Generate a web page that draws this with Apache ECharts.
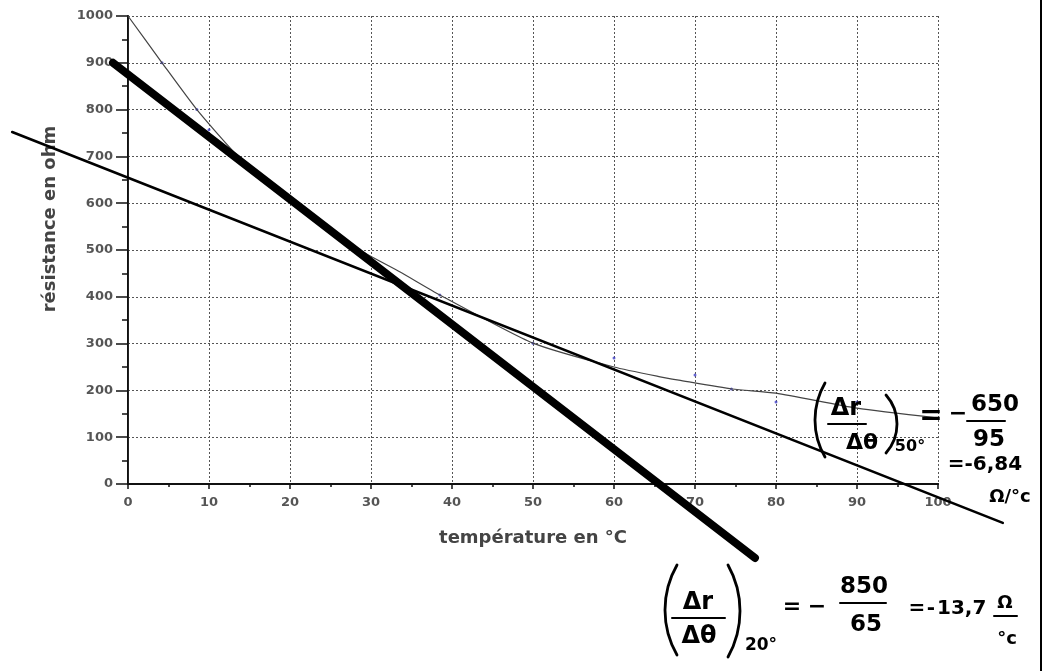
<!DOCTYPE html>
<html>
<head>
<meta charset="utf-8">
<script src="https://cdn.jsdelivr.net/npm/echarts@6/dist/echarts.min.js"></script>
<style>
html,body{margin:0;padding:0;background:#fff;}
#chart{width:1045px;height:671px;}
</style>
</head>
<body>
<div id="chart"></div>
<script>
// Fitted curve (thin line)
var curveTemp = [0, 4.2, 8.5, 13.6, 19.6, 28.6, 33.6, 38.5, 50, 60, 65.7, 68, 74.6, 80, 90, 100];
var curveRes  = [1000, 900, 800, 700, 607, 500, 453, 404, 301, 250, 229, 222, 203, 194, 162, 141];
// Measured points (small blue dots)
var measTemp = [4.2, 8.5, 10, 13.6, 28.6, 38.5, 50, 60, 70, 74.5, 80, 90];
var measRes  = [900, 800, 757, 700, 500, 404, 301, 269, 233, 203, 175, 175];
// Tangent at 20 °C (thick) and at 50 °C (thin)
var tangent20Temp = [-1.85, 77.4];
var tangent20Res  = [900, -158];
var tangent50Temp = [-14.3, 108];
var tangent50Res  = [752, -83];
// Axis ticks
var xTicks = [0, 10, 20, 30, 40, 50, 60, 70, 80, 90, 100];
var yTicks = [0, 100, 200, 300, 400, 500, 600, 700, 800, 900, 1000];
// Extended (hidden) range used so the tangents can run past the plot frame
var extX = [-15, 110];
var extY = [-200, 1000];

function pairs(xs, ys) { return xs.map(function (x, i) { return [x, ys[i]]; }); }

var W = 1045, H = 671;
var G = {left: 128, right: 107, top: 16, bottom: 187};
var pxX = (W - G.left - G.right) / (xTicks[xTicks.length - 1] - xTicks[0]);
var pxY = (H - G.top - G.bottom) / (yTicks[yTicks.length - 1] - yTicks[0]);
var G2 = {
  left: G.left + (extX[0] - xTicks[0]) * pxX,
  right: G.right - (extX[1] - xTicks[xTicks.length - 1]) * pxX,
  top: G.top - (extY[1] - yTicks[yTicks.length - 1]) * pxY,
  bottom: G.bottom + (extY[0] - yTicks[0]) * pxY
};

var labelFont = {color: '#555', fontFamily: 'DejaVu Sans', fontWeight: 'bold', fontSize: 13,
  formatter: function (v) { return String(v); }};

function T(x, y, text, size, extra, weight) {
  var o = {type: 'text', x: x, y: y, z: 100,
    style: {text: text, fill: '#000', font: (weight || 'bold') + ' ' + size + 'px DejaVu Sans', align: 'center', verticalAlign: 'middle'}};
  if (extra) { for (var k in extra) o[k] = extra[k]; }
  return o;
}
// hand-drawn style parenthesis as an arc; side -1 = "(", +1 = ")"
function P(edgeX, cy, halfH, sag, side) {
  var r = (halfH * halfH + sag * sag) / (2 * sag);
  var a = Math.asin(halfH / r);
  var cx = side < 0 ? edgeX + r : edgeX - r;
  var mid = side < 0 ? Math.PI : 0;
  return {type: 'arc', z: 100, shape: {cx: cx, cy: cy, r: r, startAngle: mid - a, endAngle: mid + a},
    style: {stroke: '#000', lineWidth: 2.8, fill: null, lineCap: 'round'}};
}
function L(x1, y1, x2, y2) {
  return {type: 'line', z: 100, shape: {x1: x1, y1: y1, x2: x2, y2: y2}, style: {stroke: '#000', lineWidth: 2, lineCap: 'round'}};
}

var chart = echarts.init(document.getElementById('chart'));
chart.setOption({
  animation: false,
  backgroundColor: '#fff',
  grid: [
    {left: G.left, right: G.right, top: G.top, bottom: G.bottom, containLabel: false},
    {left: G2.left, right: G2.right, top: G2.top, bottom: G2.bottom, containLabel: false}
  ],
  xAxis: [{
    gridIndex: 0, type: 'value', min: xTicks[0], max: xTicks[xTicks.length - 1], interval: 10,
    name: 'température en °C', nameLocation: 'middle', nameGap: 45,
    nameTextStyle: {color: '#444', fontFamily: 'DejaVu Sans', fontWeight: 'bold', fontSize: 18},
    axisLine: {show: true, onZero: false, lineStyle: {color: '#111', width: 2}},
    axisTick: {show: true, inside: false, length: 5, lineStyle: {color: '#111', width: 1.5}},
    minorTick: {show: true, splitNumber: 2, length: 3, lineStyle: {color: '#111', width: 1.5}},
    axisLabel: Object.assign({margin: 12}, labelFont),
    splitLine: {show: true, lineStyle: {color: '#555', width: 1, type: [2, 2]}}
  }, {
    gridIndex: 0, type: 'value', position: 'top', min: 0, max: 100,
    axisLine: {show: true, lineStyle: {color: '#111', width: 2}},
    axisTick: {show: false}, axisLabel: {show: false}, splitLine: {show: false}
  }, {
    gridIndex: 1, type: 'value', min: extX[0], max: extX[1], show: false
  }],
  yAxis: [{
    gridIndex: 0, type: 'value', min: yTicks[0], max: yTicks[yTicks.length - 1], interval: 100,
    axisLine: {show: true, onZero: false, lineStyle: {color: '#111', width: 2}},
    axisTick: {show: true, inside: false, length: 12, lineStyle: {color: '#111', width: 1.5}},
    minorTick: {show: true, splitNumber: 2, length: 6, lineStyle: {color: '#111', width: 1.5}},
    axisLabel: Object.assign({margin: 15}, labelFont),
    splitLine: {show: true, lineStyle: {color: '#555', width: 1, type: [2, 2]}}
  }, {
    gridIndex: 0, type: 'value', position: 'right', min: 0, max: 1000,
    axisLine: {show: true, lineStyle: {color: '#222', width: 1}},
    axisTick: {show: false}, axisLabel: {show: false}, splitLine: {show: false}
  }, {
    gridIndex: 1, type: 'value', min: extY[0], max: extY[1], show: false
  }],
  series: [{
    type: 'line', xAxisIndex: 0, yAxisIndex: 0, data: pairs(curveTemp, curveRes), symbol: 'none', smooth: 0.2,
    lineStyle: {color: '#444', width: 1.2}, z: 3
  }, {
    type: 'scatter', xAxisIndex: 0, yAxisIndex: 0, data: pairs(measTemp, measRes), symbol: 'circle', symbolSize: 3,
    itemStyle: {color: '#4040c8', opacity: 0.8}, z: 2
  }, {
    type: 'line', xAxisIndex: 2, yAxisIndex: 2, data: pairs(tangent50Temp, tangent50Res), symbol: 'none', clip: false,
    lineStyle: {color: '#000', width: 2.6, cap: 'round'}, z: 4
  }, {
    type: 'line', xAxisIndex: 2, yAxisIndex: 2, data: pairs(tangent20Temp, tangent20Res), symbol: 'none', clip: false,
    lineStyle: {color: '#000', width: 8, cap: 'round'}, z: 5
  }],
  graphic: [
    // y axis name
    {type: 'text', x: 50, y: 219, rotation: Math.PI / 2,
     style: {text: 'résistance en ohm', fill: '#444', font: 'bold 18px DejaVu Sans', align: 'center', verticalAlign: 'middle'}},
    // right edge of the scanned page
    {type: 'line', shape: {x1: 1041, y1: 0, x2: 1041, y2: 671}, style: {stroke: '#000', lineWidth: 2}},

    // bottom annotation (tangent at 20 °C)
    P(665, 610, 45, 12, -1),
    T(698, 603, 'Δr', 24),
    L(672, 618, 725, 618),
    T(699, 637, 'Δθ', 24),
    P(740, 611, 46, 12, 1),
    T(761, 646, '20°', 17),
    T(792, 607, '=', 22),
    T(817, 607, '−', 22),
    T(864, 587, '850', 23),
    L(840, 603, 886, 603),
    T(866, 625, '65', 23),
    T(917, 609, '=', 20),
    T(931, 609, '-', 20),
    {type: 'text', x: 937, y: 609, z: 100, style: {text: '13,7', fill: '#000', font: 'bold 20px DejaVu Sans', align: 'left', verticalAlign: 'middle'}},
    T(1005, 603, 'Ω', 18),
    L(994, 616, 1017, 616),
    T(1007, 639, '°c', 18),

    // right annotation (tangent at 50 °C)
    P(815, 420, 37, 10, -1),
    T(846, 409, 'Δr', 24),
    L(828, 424, 866, 424),
    T(862, 443, 'Δθ', 22),
    P(897, 424, 29, 11, 1),
    T(910, 447, '50°', 16),
    T(931, 417, '=', 28),
    T(958, 414, '−', 22),
    T(995, 405, '650', 23),
    L(967, 421, 1005, 421),
    T(989, 440, '95', 23),
    T(985, 465, '=-6,84', 20),
    T(1010, 497, 'Ω/°c', 18)
  ]
});
</script>
</body>
</html>
